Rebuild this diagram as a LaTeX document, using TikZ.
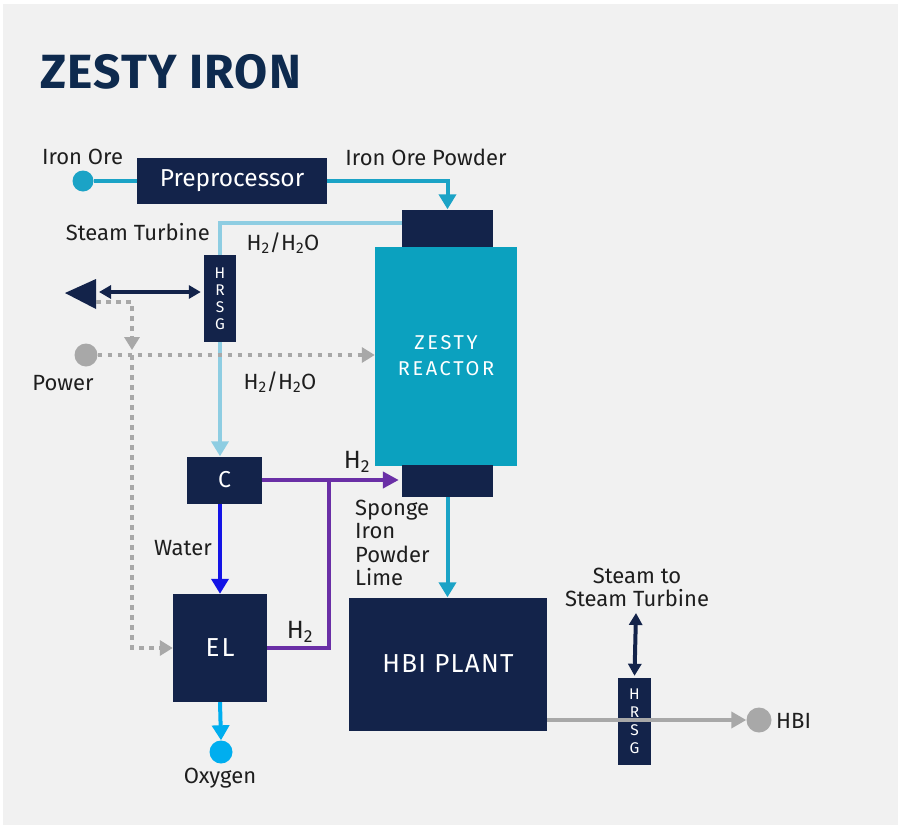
\documentclass[tikz,border=0pt]{standalone}
\usepackage{fontspec}
\setmainfont{Fira Sans}
\usetikzlibrary{arrows.meta}
\definecolor{bg}{HTML}{F1F1F1}
\definecolor{navy}{HTML}{13234A}
\definecolor{titlenavy}{HTML}{0E2A4E}
\definecolor{reactorteal}{HTML}{0BA1BF}
\definecolor{tealline}{HTML}{1BA3C6}
\definecolor{lightblue}{HTML}{8ECDE2}
\definecolor{purp}{HTML}{6A2FA6}
\definecolor{waterblue}{HTML}{1414E6}
\definecolor{oxyblue}{HTML}{00AEEF}
\definecolor{grayc}{HTML}{A8A8A8}
\definecolor{txt}{HTML}{1E1E1E}
\begin{document}
\begin{tikzpicture}[x=1pt,y=-1pt,
  blk/.style={fill=navy, text=white, inner sep=0pt, font=\fontsize{24.5}{28}\selectfont},
  hrsgbox/.style={fill=navy, text=white, inner sep=0pt, align=center, font=\fontsize{15.5}{17}\selectfont},
  lbl/.style={text=txt, inner sep=0pt, font=\fontsize{22}{26}\selectfont},
  dot/.style={circle, inner sep=0pt},
  flow/.style={line width=4pt},
  tipbig/.style={-{Triangle[width=17pt,length=15pt]}},
  tipnavy/.style={{Triangle[width=13pt,length=12pt]}-{Triangle[width=13pt,length=12pt]}},
  dotted gray/.style={grayc, line width=4.5pt, dash pattern=on 4.5pt off 5.5pt}
]
\useasboundingbox (0,0) rectangle (898,825);
\fill[white] (0,0) rectangle (898,825);
\fill[bg] (3,4) rectangle (898,825);

% title
\node[anchor=west, text=titlenavy, inner sep=0pt, font=\fontsize{48}{52}\selectfont\bfseries\addfontfeatures{LetterSpace=2.5}] (title) at (40,72) {ZESTY IRON};

% boxes
\node[blk, minimum width=190, minimum height=46] (pre) at (232,181) {Preprocessor};
\node[blk, minimum width=91, minimum height=37] (rtop) at (447.5,228) {};
\node[fill=reactorteal, text=white, inner sep=0pt, align=center, minimum width=142, minimum height=219, font=\fontsize{20}{26}\selectfont\addfontfeatures{LetterSpace=13}] (reac) at (446,356) {ZESTY\\REACTOR};
\node[blk, minimum width=91, minimum height=32] (rbot) at (447.5,481) {};
\node[hrsgbox, minimum width=32, minimum height=87] (hrsg1) at (220,298.5) {H\\R\\S\\G};
\node[blk, minimum width=75, minimum height=47, font=\fontsize{23}{26}\selectfont] (cond) at (224.5,480) {C};
\node[blk, minimum width=94, minimum height=108, font=\fontsize{26}{30}\selectfont\addfontfeatures{LetterSpace=8}] (el) at (220,648) {EL};
\node[blk, minimum width=198, minimum height=133, font=\fontsize{26}{30}\selectfont\addfontfeatures{LetterSpace=5}] (hbi) at (448,664) {HBI PLANT};
\node[hrsgbox, minimum width=33, minimum height=87, font=\fontsize{15.5}{18}\selectfont] (hrsg2) at (634.5,721.5) {H\\R\\S\\G};

% terminal dots
\node[dot, fill=tealline, minimum size=21] (ore) at (83,181) {};
\node[dot, fill=grayc, minimum size=23] (pow) at (86,355) {};
\node[dot, fill=oxyblue, minimum size=23] (oxy) at (221,752) {};
\node[dot, fill=grayc, minimum size=25] (hbic) at (759,720) {};

% steam turbine output triangle
\fill[navy] (65,293) -- (96,279) -- (96,309) -- cycle;
\coordinate (st) at (99,292);
\coordinate (d0) at (96,302);
\coordinate (d1) at (132,302);
\coordinate (dj) at (132,355);
\coordinate (pj) at (329,480);
\coordinate (stm) at (636,613);

% labels
\node[lbl] (l-ore) at (82.5,157) {Iron Ore};
\node[lbl] (l-powder) at (426,157) {Iron Ore Powder};
\node[lbl, anchor=east] (l-st) at (210,232) {Steam Turbine};
\node[lbl] (l-h2o1) at (283,243) {H\textsubscript{2}/H\textsubscript{2}O};
\node[lbl] (l-power) at (63,383) {Power};
\node[lbl] (l-h2o2) at (280,382) {H\textsubscript{2}/H\textsubscript{2}O};
\node[lbl, font=\fontsize{25}{28}\selectfont] (l-h2a) at (357,462) {H\textsubscript{2}};
\node[lbl] (l-water) at (183,548) {Water};
\node[lbl, anchor=north west, align=left, font=\fontsize{22}{23.3}\selectfont] (l-sponge) at (355,500) {Sponge\\Iron\\Powder\\Lime};
\node[lbl, font=\fontsize{25}{28}\selectfont] (l-h2b) at (300,632) {H\textsubscript{2}};
\node[lbl] (l-oxy) at (220,778) {Oxygen};
\node[lbl, align=center, font=\fontsize{22}{23}\selectfont] (l-steam) at (637,587) {Steam to\\Steam Turbine};
\node[lbl, anchor=west] (l-hbi) at (776,721) {HBI};

% connectors
\draw[flow, tealline] (ore) -- (pre.west);
\draw[flow, tealline, tipbig] (pre.east) -| (rtop.north);
\draw[flow, lightblue] ([yshift=5pt]rtop.west) -| (hrsg1.north);
\draw[flow, lightblue, tipbig] (hrsg1.south) -- (hrsg1.south |- cond.north);
\draw[flow, navy, tipnavy] (st) -- ([xshift=-3pt]hrsg1.west |- st);
\draw[dotted gray, -{Triangle[width=15pt,length=13pt]}] (d0) -- (d1) -- ([yshift=5pt]dj);
\draw[dotted gray, -{Triangle[width=15pt,length=13pt]}] (pow.east) -- (pow.east -| reac.west);
\draw[dotted gray, -{Triangle[width=15pt,length=13pt]}] (dj) -- (dj |- el.west) -- (el.west);
\draw[flow, purp, -{Triangle[width=16pt,length=16pt]}] (cond.east) -- ([xshift=-3pt]cond.east -| rbot.west);
\draw[flow, purp] (el.east) -| (pj);
\draw[flow, waterblue, tipbig] (el.north |- cond.south) -- (el.north);
\draw[flow, oxyblue, tipbig] (el.south) -- (oxy.north);
\draw[flow, tealline, tipbig] (rbot.south) -- (rbot.south |- hbi.north);
\draw[flow, grayc, -{Triangle[width=16pt,length=15pt]}] ([yshift=-56pt]hbi.east) -- ([yshift=-56pt]hbi.east -| hbic.west);
\draw[flow, navy, tipnavy] (stm) -- ([yshift=2pt]hrsg2.north);
\end{tikzpicture}
\end{document}
